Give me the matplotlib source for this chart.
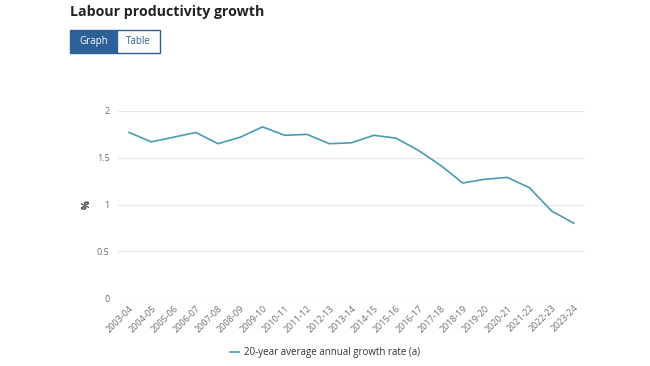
import matplotlib
matplotlib.use("Agg")
import matplotlib.pyplot as plt
from matplotlib.patches import Rectangle

# ---------- DATA ----------
years = ["2003-04", "2004-05", "2005-06", "2006-07", "2007-08", "2008-09",
         "2009-10", "2010-11", "2011-12", "2012-13", "2013-14", "2014-15",
         "2015-16", "2016-17", "2017-18", "2018-19", "2019-20", "2020-21",
         "2021-22", "2022-23", "2023-24"]
growth_20yr = [1.77, 1.67, 1.72, 1.77, 1.65, 1.72, 1.83, 1.74, 1.75, 1.65,
               1.66, 1.74, 1.71, 1.58, 1.42, 1.23, 1.27, 1.29, 1.18, 0.93, 0.80]
y_ticks = [0, 0.5, 1, 1.5, 2]
y_tick_labels = ["0", "0.5", "1", "1.5", "2"]

plt.rcParams["font.family"] = ["Open Sans", "DejaVu Sans"]

W, H = 650, 366
fig = plt.figure(figsize=(W / 100, H / 100), dpi=100)
fig.patch.set_facecolor("white")

# ---------- HEADER ----------
fig.text(70 / W, 1 - 12 / H, "Labour productivity growth", fontsize=10.2,
         fontweight="bold", color="#222222", va="center", ha="left")

blue = "#2d5f98"
fig.add_artist(Rectangle((70 / W, 1 - 53 / H), 47 / W, 23 / H,
                         transform=fig.transFigure, facecolor=blue,
                         edgecolor=blue, lw=1))
fig.add_artist(Rectangle((117 / W, 1 - 53 / H), 43 / W, 23 / H,
                         transform=fig.transFigure, facecolor="white",
                         edgecolor=blue, lw=1))
fig.text(93.5 / W, 1 - 41.5 / H, "Graph", fontsize=7, color="white",
         ha="center", va="center")
fig.text(138.5 / W, 1 - 41.5 / H, "Table", fontsize=7, color=blue,
         ha="center", va="center")

# ---------- CHART ----------
ax = fig.add_axes([118 / W, 1 - 298 / H, (585 - 118) / W, (298 - 111) / H])
x = list(range(len(years)))
ax.plot(x, growth_20yr, color="#4a9ab2", lw=1.2,
        label="20-year average annual growth rate (a)", clip_on=False)

ax.set_xlim(-0.5, len(years) - 0.5)
ax.set_ylim(0, 2)
ax.set_yticks(y_ticks)
ax.set_yticklabels(y_tick_labels)
ax.set_xticks(x)
ax.set_xticklabels(years, rotation=45, ha="right", rotation_mode="anchor")

ax.grid(axis="y", color="#e8e8e8", lw=0.8)
ax.set_axisbelow(True)
for s in ax.spines.values():
    s.set_visible(False)
ax.tick_params(axis="both", length=0, colors="#707070", labelsize=6.5)
ax.tick_params(axis="y", pad=6)
ax.tick_params(axis="x", pad=4)
ax.set_ylabel("%", fontsize=7, fontweight="bold", color="#333333", labelpad=3)

fig.legend(loc="center", bbox_to_anchor=(0.5, 1 - 353 / H), frameon=False,
           fontsize=7, handlelength=1.0, handletextpad=0.5,
           labelcolor="#333333")

fig.savefig("out.png", dpi=100, facecolor="white")
